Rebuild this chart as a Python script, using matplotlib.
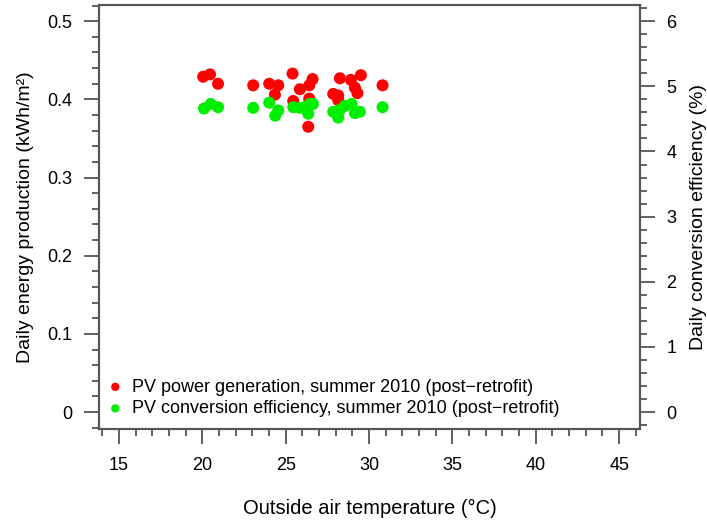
import numpy as np
import matplotlib
matplotlib.use('Agg')
import matplotlib.pyplot as plt
from matplotlib.ticker import MultipleLocator

plt.rcParams['font.family'] = ['Liberation Sans', 'DejaVu Sans']

# red points: daily energy production (kWh/m2)
temp_red = [20.05, 20.46, 20.94, 23.05, 24.01, 24.55, 24.35, 25.41, 25.45, 25.85,
            26.41, 26.61, 26.41, 26.35, 27.85, 28.15, 28.25, 28.15, 28.91, 29.51,
            29.15, 29.3, 30.81]
energy = [0.429, 0.432, 0.420, 0.418, 0.420, 0.418, 0.406, 0.433, 0.398, 0.413,
          0.418, 0.426, 0.401, 0.365, 0.407, 0.405, 0.427, 0.399, 0.425, 0.431,
          0.415, 0.408, 0.418]

# green points: daily conversion efficiency (%)
temp_green = [20.1, 20.5, 20.94, 23.05, 24.01, 24.55, 24.37, 25.45, 25.85, 26.15,
              26.45, 26.35, 26.63, 27.85, 28.15, 28.25, 28.55, 28.95, 29.15, 29.45,
              30.81]
efficiency = [4.66, 4.73, 4.68, 4.67, 4.75, 4.63, 4.55, 4.68, 4.67, 4.68,
              4.73, 4.58, 4.73, 4.61, 4.52, 4.64, 4.70, 4.73, 4.59, 4.61,
              4.68]

label_red = 'PV power generation, summer 2010 (post\u2212retrofit)'
label_green = 'PV conversion efficiency, summer 2010 (post\u2212retrofit)'

ec = '#555555'
fig = plt.figure(figsize=(7.07, 5.21), dpi=100)
ax = fig.add_axes([0.140, 0.1766, 0.765, 0.8134])
ax2 = ax.twinx()

ax.scatter(temp_red, energy, s=75, color='#ff0000', edgecolors='none', zorder=3)
ax2.scatter(temp_green, efficiency, s=75, color='#00ee00', edgecolors='none', zorder=3)

ax.set_xlim(13.8, 46.24)
ax.set_ylim(-0.0217, 0.5205)
ax2.set_ylim(-0.0217 * 12, 0.5205 * 12)  # 6 % lines up with 0.5 kWh/m2

ax.xaxis.set_minor_locator(MultipleLocator(1))
ax.yaxis.set_minor_locator(MultipleLocator(0.02))
ax2.yaxis.set_minor_locator(MultipleLocator(0.2))
ax.set_xticks(range(15, 50, 5))
ax.set_yticks([0, 0.1, 0.2, 0.3, 0.4, 0.5])
ax.set_yticklabels(['0', '0.1', '0.2', '0.3', '0.4', '0.5'])
ax2.set_yticks(range(0, 7))

for a in (ax, ax2):
    for sp in a.spines.values():
        sp.set_color(ec)
        sp.set_linewidth(1.5)
    a.tick_params(which='major', length=11, width=1.3, color=ec, labelsize=13, pad=8)
    a.tick_params(which='minor', length=5, width=1.3, color=ec)
ax.tick_params(axis='x', which='major', pad=9)

ax.set_xlabel('Outside air temperature (\u00b0C)', fontsize=14.5, labelpad=18)
ax.set_ylabel('Daily energy production (kWh/m\u00b2)', fontsize=14, labelpad=10)
ax2.set_ylabel('Daily conversion efficiency (%)', fontsize=14, labelpad=10)

h1 = ax.scatter([], [], s=36, color='#ff0000', edgecolors='none')
h2 = ax.scatter([], [], s=36, color='#00ee00', edgecolors='none')
leg = ax.legend([h1, h2], [label_red, label_green], loc='lower left',
                bbox_to_anchor=(0.0135, 0.028), frameon=False, fontsize=13,
                handlelength=1.0, handletextpad=0.45, labelspacing=0.25,
                borderaxespad=0, borderpad=0, scatterpoints=1)

fig.savefig('out.png', dpi=100)
